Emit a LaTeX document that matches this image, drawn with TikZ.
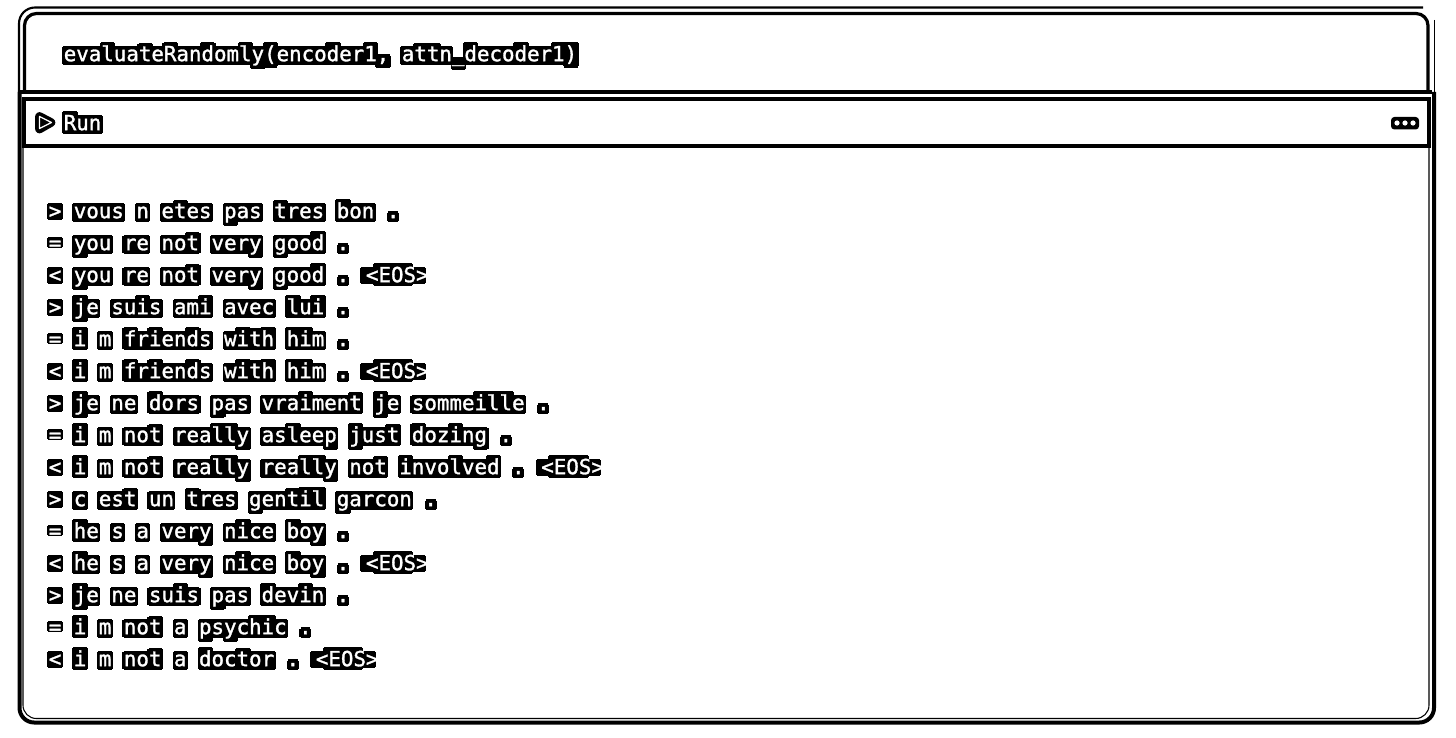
\documentclass[tikz,border=0pt]{standalone}
\usepackage{fontspec}
\setmainfont{DejaVu Sans Mono}
\newfontfamily\glyphfont[FakeBold=1.5]{DejaVu Sans Mono}
\newsavebox{\hlbox}
\newdimen\hlw \newdimen\hlt \newdimen\hlb \newdimen\hlins
\newcommand{\hlrule}[4]{\makebox[0pt][l]{\kern#1\textcolor{black}{\rule[#3]{#2}{#4}}}}
\newcommand{\hlblock}{%
  \hlrule{\dimexpr\hlins-1.1pt}{\dimexpr\hlw-2\hlins+2.2pt}{\dimexpr\hlb-1.9pt}{\dimexpr\hlt-\hlb+3.8pt}%
  \hlrule{\dimexpr\hlins-0.3pt}{\dimexpr\hlw-2\hlins+0.6pt}{\dimexpr\hlb-2.8pt}{\dimexpr\hlt-\hlb+5.6pt}%
}
\newcommand{\hlchar}[1]{%
  \sbox{\hlbox}{#1}%
  \hlw=\wd\hlbox \hlt=\ht\hlbox \hlb=-\dp\hlbox \hlins=0pt
  \ifdim\dimexpr\hlt-\hlb\relax>0pt
    \hlfix{#1}\hlblock
  \fi
  \kern\hlw}
\ExplSyntaxOn
\cs_new_protected:Npn \hlfix #1
 {
  \str_case:nn {#1}
   {
    {=}{\hlb=0.26em\relax}
    {<}{\hlb=0.1em\relax}
    {>}{\hlb=0.1em\relax}
    {.}{\hlins=1.3pt\relax}
   }
 }
\NewDocumentCommand{\hlbg}{m}{ \str_map_inline:nn {#1} { \hlchar{##1} } }
\ExplSyntaxOff
\newcommand{\hl}[1]{\makebox[0pt][l]{\hlbg{#1}}\textcolor{white}{\glyphfont #1}}
\AtBeginDocument{\catcode`\_=12\relax}
\tikzset{
  x=0.75pt,y=-0.75pt,
  thick line/.style={line width=2.4pt,black},
  heavy line/.style={line width=3pt,black},
  thin line/.style={line width=1.1pt,black},
  hair line/.style={line width=0.8pt,black},
  codeline/.style={anchor=base west,inner sep=0pt,yshift=-0.5pt,font=\fontsize{15.6}{18}\selectfont},
}
\begin{document}
\begin{tikzpicture}
\useasboundingbox (0,0) rectangle (1456,738);
\fill[white] (0,0) rectangle (1456,738);
% outer frame
\draw[thin line,line width=1.6pt,rounded corners=12pt] (19,92) -- (19,7.5) -- (1423,7.5);
\draw[thin line] (1434.5,20) -- (1434.5,92);
\draw[heavy line,rounded corners=11pt] (19.5,92) -- (19.5,722.5) -- (1434,722.5) -- (1434,92);
\draw[hair line,rounded corners=10pt] (23,146) -- (23,718.5) -- (1429,718.5) -- (1429,146);
% code cell
\draw[thick line,rounded corners=9pt] (24.5,92) -- (24.5,13.5) -- (1428,13.5) -- (1428,92);
\draw[thick line] (19,92) -- (1432,92);
% run bar
\draw[thick line] (24,99) rectangle (1429,146);
% play icon
\draw[line width=6.5pt,line join=round,black,fill=black] (39.5,116.5) -- (51,122.5) -- (39.5,129) -- cycle;
\draw[line width=0.9pt,line join=round,white] (39.5,116.5) -- (51.5,122.5) -- (39.5,128.5) -- cycle;
% menu dots
\fill[black,rounded corners=2.5pt] (1391,117) rectangle (1419,129.5);
\foreach \dotx in {1397,1405,1413} \fill[white] (\dotx,123) circle[radius=2.6];
% texts
\node[codeline] (cell) at (63.5,60.5) {\hl{evaluateRandomly(encoder1, attn_decoder1)}};
\node[codeline] (run) at (63.5,129.5) {\hl{Run}};
\node[codeline] (l1) at (48.5,217.5) {\hl{> vous n etes pas tres bon .}};
\node[codeline] (l2) at (48.5,249.5) {\hl{= you re not very good .}};
\node[codeline] (l3) at (48.5,281.5) {\hl{< you re not very good . <EOS>}};
\node[codeline] (l4) at (48.5,313.5) {\hl{> je suis ami avec lui .}};
\node[codeline] (l5) at (48.5,345.5) {\hl{= i m friends with him .}};
\node[codeline] (l6) at (48.5,377.5) {\hl{< i m friends with him . <EOS>}};
\node[codeline] (l7) at (48.5,409.5) {\hl{> je ne dors pas vraiment je sommeille .}};
\node[codeline] (l8) at (48.5,441.5) {\hl{= i m not really asleep just dozing .}};
\node[codeline] (l9) at (48.5,473.5) {\hl{< i m not really really not involved . <EOS>}};
\node[codeline] (l10) at (48.5,505.5) {\hl{> c est un tres gentil garcon .}};
\node[codeline] (l11) at (48.5,537.5) {\hl{= he s a very nice boy .}};
\node[codeline] (l12) at (48.5,569.5) {\hl{< he s a very nice boy . <EOS>}};
\node[codeline] (l13) at (48.5,601.5) {\hl{> je ne suis pas devin .}};
\node[codeline] (l14) at (48.5,633.5) {\hl{= i m not a psychic .}};
\node[codeline] (l15) at (48.5,665.5) {\hl{< i m not a doctor . <EOS>}};
\end{tikzpicture}
\end{document}
